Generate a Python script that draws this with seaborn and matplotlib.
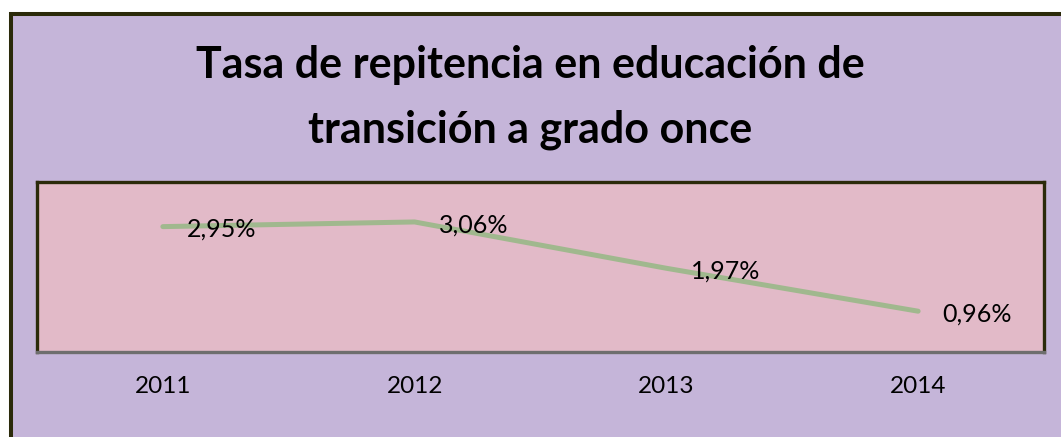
import matplotlib
matplotlib.use("Agg")
import matplotlib.pyplot as plt
import seaborn as sns
import pandas as pd
from matplotlib.patches import Rectangle

years = ["2011", "2012", "2013", "2014"]
rates = [2.95, 3.06, 1.97, 0.96]
labels = ["2,95%", "3,06%", "1,97%", "0,96%"]
title_lines = ["Tasa de repitencia en educación de", "transición a grado once"]

sns.set_theme(style="white")
plt.rcParams["font.family"] = ["Lato", "DejaVu Sans"]

W, H = 1061, 437
fig = plt.figure(figsize=(W / 100, H / 100), dpi=100, facecolor="white")

# outer chart frame
fig.patches.append(Rectangle((11 / W, -0.1), 1.2, (H - 13.5) / H + 0.1,
                             transform=fig.transFigure, facecolor="#C5B5D9",
                             edgecolor="#2B2A0A", linewidth=2.9, zorder=-1))

ax = fig.add_axes([37 / W, (H - 352) / H, (1044 - 37) / W, (352 - 182) / H])
ax.set_zorder(2)
ax.set_facecolor("#E2BAC8")

df = pd.DataFrame({"year": years, "rate": rates})
sns.lineplot(data=df, x="year", y="rate", ax=ax, color="#A0B88E",
             linewidth=3.6, sort=False)

ax.set_xlim(-0.5, 3.5)
ax.set_ylim(0, 4)
ax.set_xlabel("")
ax.set_ylabel("")
ax.set_yticks([])
ax.tick_params(axis="x", length=0, pad=17, labelsize=17.5, labelcolor="black")

for s in ["top", "left", "right"]:
    ax.spines[s].set_color("#2B2A0A")
    ax.spines[s].set_linewidth(2.4)
ax.spines["bottom"].set_color("#6E6E6E")
ax.spines["bottom"].set_linewidth(2.4)

for i, (v, lab) in enumerate(zip(rates, labels)):
    ax.annotate(lab, (i, v), xytext=(17.5, -2), textcoords="offset points",
                ha="left", va="center", fontsize=18, color="black")

fig.text(530 / W, 1 - 78 / H, title_lines[0], ha="center", va="baseline",
         fontsize=31, fontweight="bold", color="black")
fig.text(530 / W, 1 - 143 / H, title_lines[1], ha="center", va="baseline",
         fontsize=31, fontweight="bold", color="black")

fig.savefig("out.png", dpi=100, facecolor=fig.get_facecolor())
